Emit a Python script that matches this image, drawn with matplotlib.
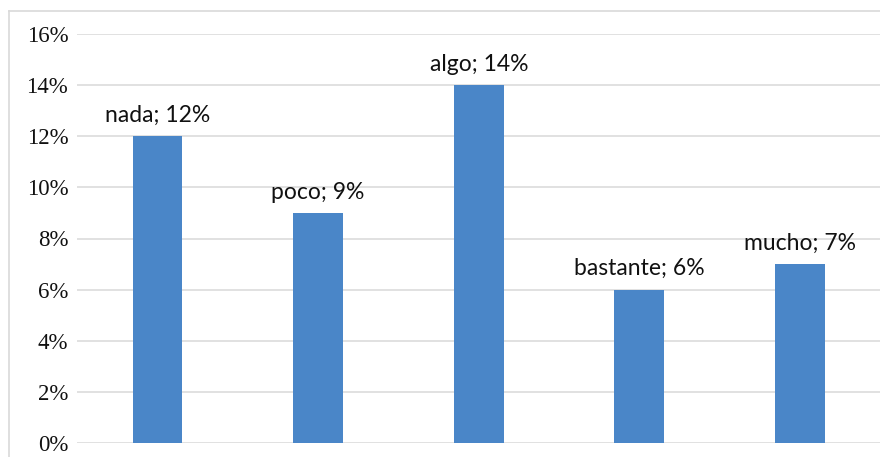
import numpy as np
import matplotlib
matplotlib.use("Agg")
import matplotlib.pyplot as plt
import matplotlib.ticker as mticker
from matplotlib.lines import Line2D

# ------------------------------------------------------------------------------------------
# data
categorias = ["nada", "poco", "algo", "bastante", "mucho"]
porcentajes = [0.12, 0.09, 0.14, 0.06, 0.07]
yticks = [0.0, 0.02, 0.04, 0.06, 0.08, 0.10, 0.12, 0.14, 0.16]

color_barra = "#4a86c8"
color_rejilla = "#d9d9d9"

# ------------------------------------------------------------------------------------------
W, H = 880, 457
fig = plt.figure(figsize=(W / 100, H / 100), dpi=100)
ax = fig.add_axes([77.2 / W, (H - 443) / H, (880.3 - 77.2) / W, (443 - 34) / H])

x = np.arange(len(categorias))
barras = ax.bar(x, porcentajes, width=0.31, color=color_barra, zorder=3)

# etiquetas "categoria; valor" encima de cada barra
for xi, cat, val in zip(x, categorias, porcentajes):
    ax.annotate(f"{cat}; {val * 100:.0f}%", (xi, val), xytext=(0, 7.5), textcoords="offset points",
                ha="center", va="bottom", fontsize=16.5, family="Lato", color="#111111")

ax.set_xlim(-0.5, len(categorias) - 0.5)
ax.set_ylim(0, 0.16)
ax.set_yticks(yticks)
ax.yaxis.set_major_formatter(mticker.FuncFormatter(lambda v, _: f"{v * 100:.0f}%"))
ax.set_xticks([])
ax.tick_params(axis="y", length=0, pad=6.5)
for lbl in ax.get_yticklabels():
    lbl.set_family("Liberation Serif")
    lbl.set_fontsize(16.5)
    lbl.set_color("#111111")

ax.grid(axis="y", color=color_rejilla, linewidth=1.1, zorder=0)
for s in ax.spines.values():
    s.set_visible(False)

# marco del grafico (solo se ven los bordes izquierdo y superior)
fig.add_artist(Line2D([8.5 / W, 8.5 / W], [0, 1 - 11 / H], color=color_rejilla, linewidth=1.2))
fig.add_artist(Line2D([8.5 / W, 1], [1 - 11 / H, 1 - 11 / H], color=color_rejilla, linewidth=1.2))

fig.savefig("out.png", dpi=100)
